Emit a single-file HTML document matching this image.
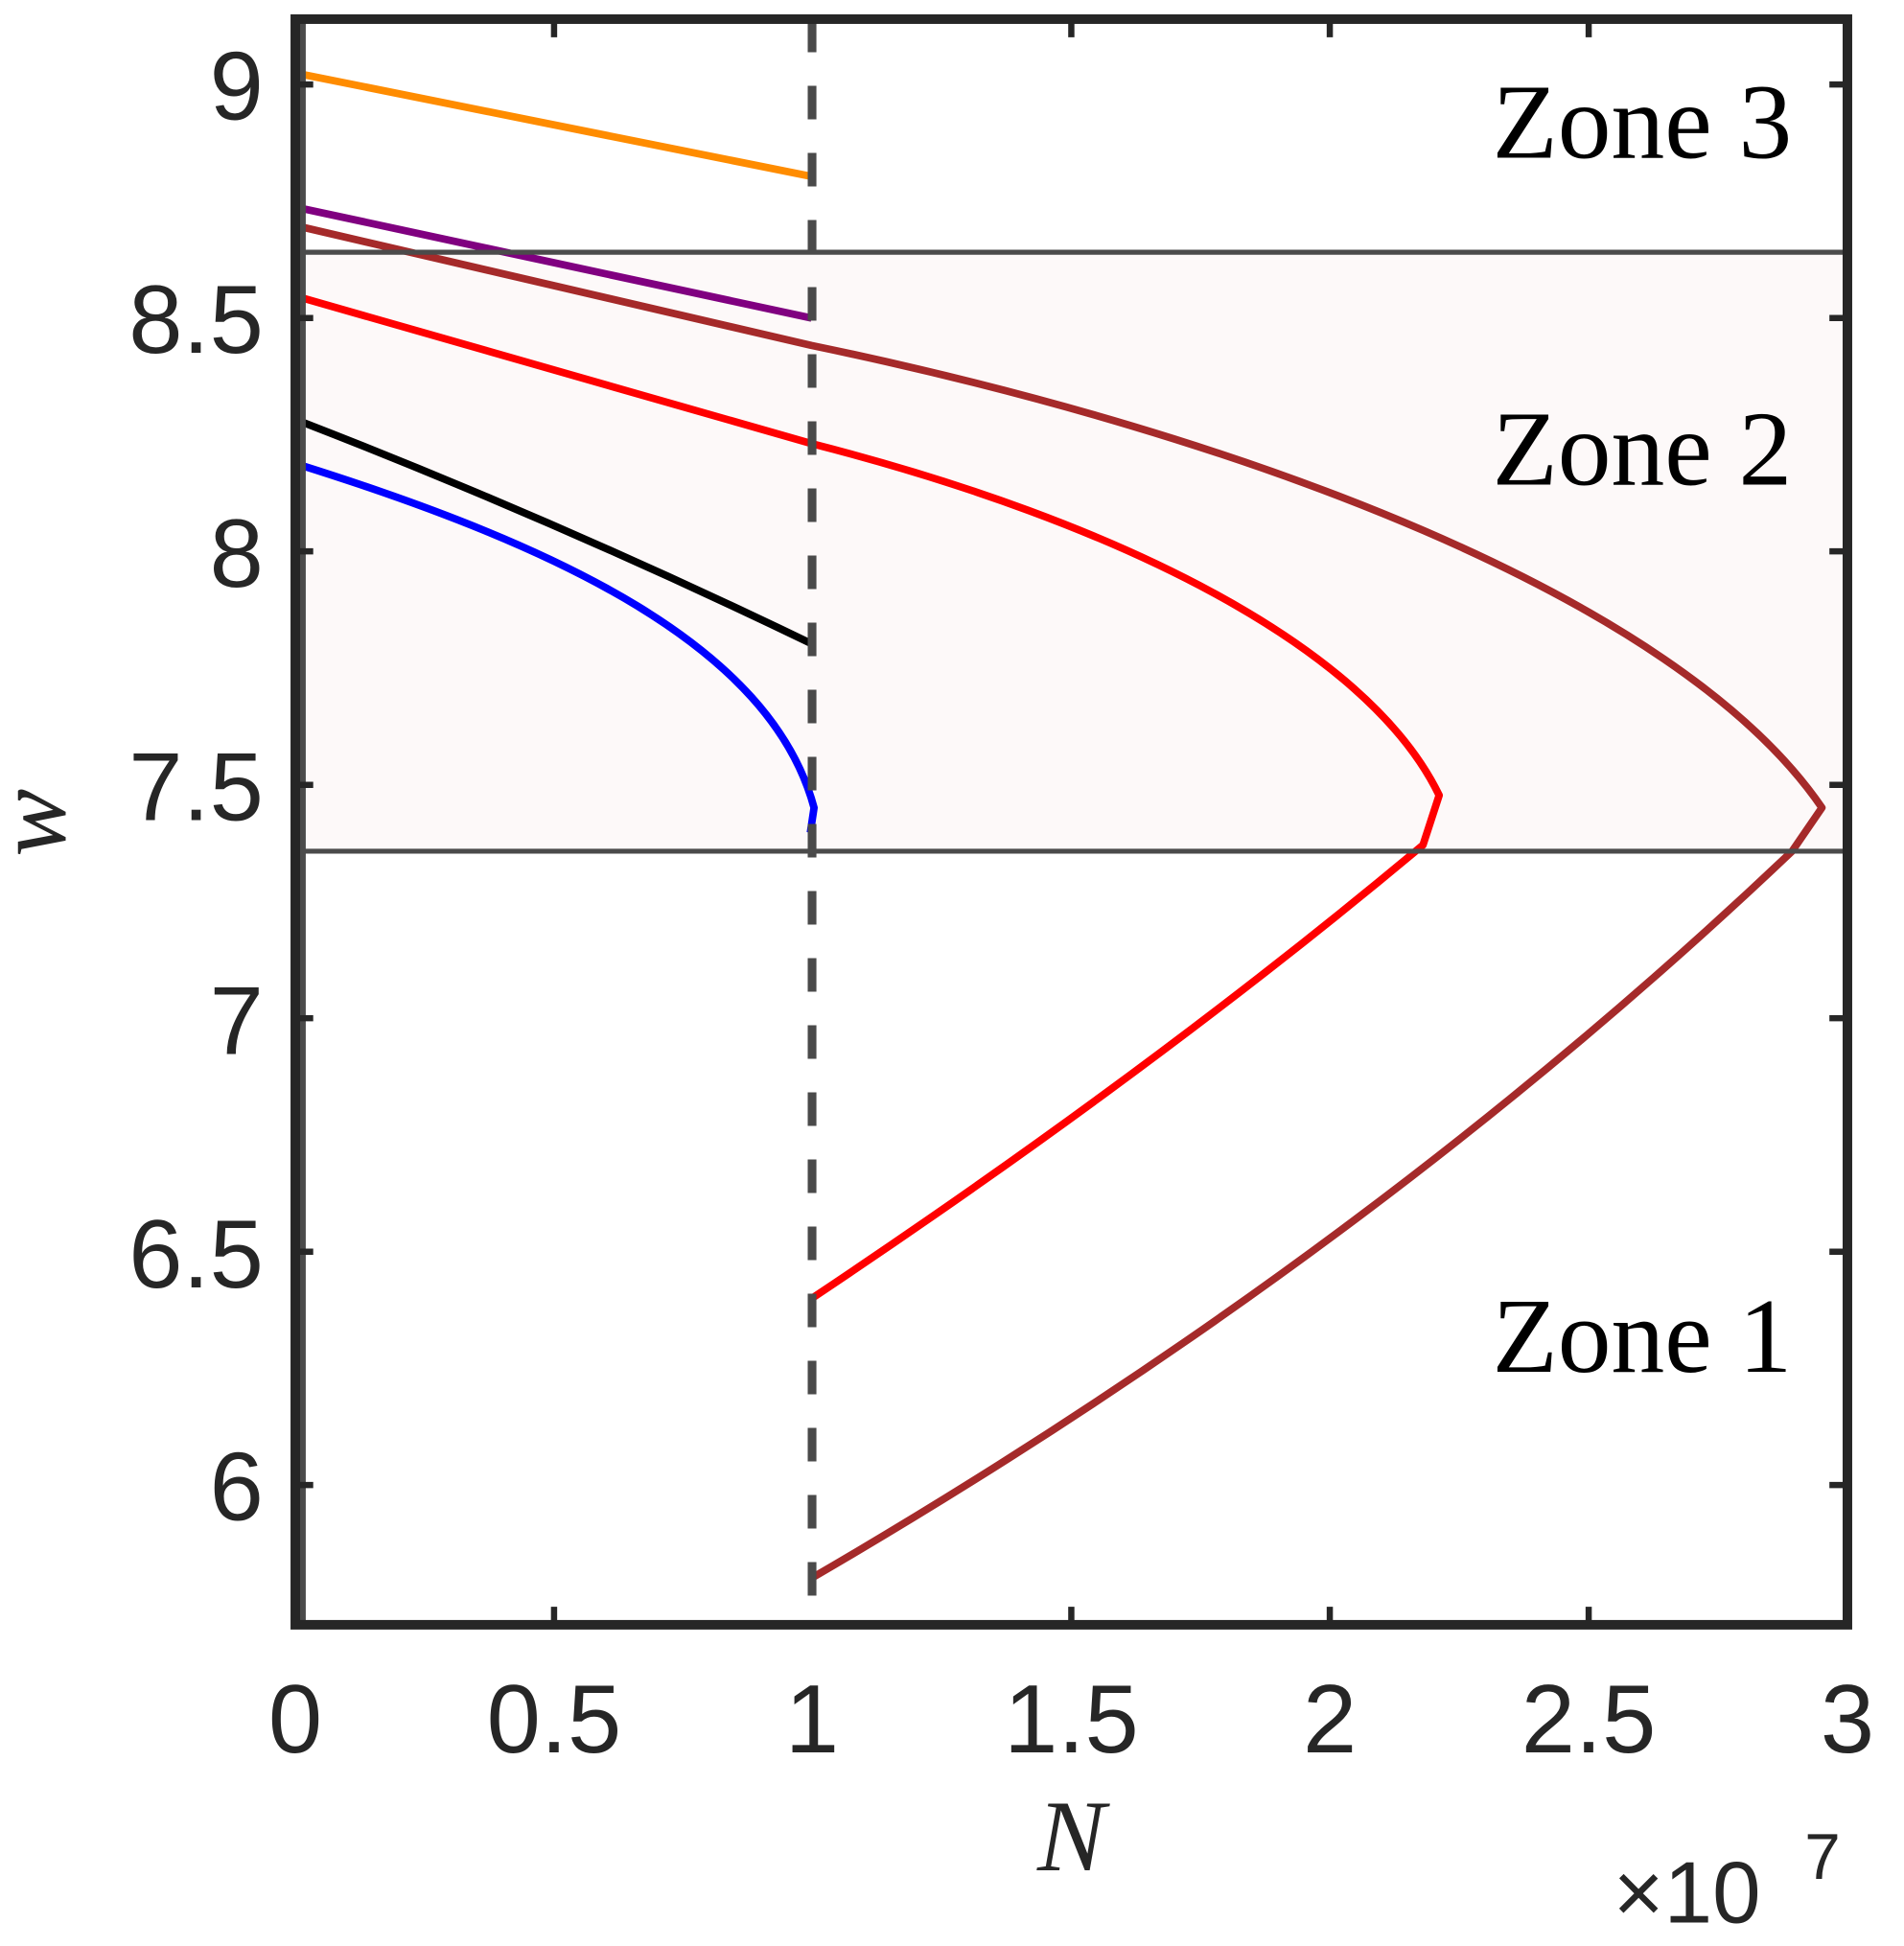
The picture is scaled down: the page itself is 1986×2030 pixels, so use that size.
<!DOCTYPE html>
<html><head><meta charset="utf-8"><style>html,body{margin:0;padding:0;background:#fff}svg{display:block}</style></head>
<body>
<svg width="1986" height="2030" viewBox="0 0 1532 1566" xmlns="http://www.w3.org/2000/svg">
<rect x="0" y="0" width="1532" height="1566" fill="#fff"/>
<rect x="241" y="203" width="1245" height="482" fill="#fdf9f9"/>
<g fill="none" stroke-linejoin="round" stroke-linecap="butt" stroke-width="6">
<path stroke="#ff8c00" d="M244,60 L653,142"/>
<path stroke="#800080" d="M244,168 L653,256"/>
<path stroke="#a52a2a" d="M244,183 L653,278 C1000,350 1350,480 1466,650 L1442,685 Q1100,1010 653,1270"/>
<path stroke="#ff0000" d="M244,240 L653,357 C900,420 1100,520 1158,640 L1145,680 Q930,860 653,1045"/>
<path stroke="#000000" d="M244,340 Q450,420 653,518"/>
<path stroke="#0000ff" d="M244,375 C450,440 620,520 655,650 L652,670"/>
</g>
<line x1="653.4" y1="15" x2="653.4" y2="1307" stroke="#4a4a4a" stroke-width="7" stroke-dasharray="27,27"/>
<line x1="241" y1="203" x2="1486" y2="203" stroke="#4b4b4b" stroke-width="4"/>
<line x1="241" y1="685" x2="1486" y2="685" stroke="#4b4b4b" stroke-width="4"/>
<line x1="243.5" y1="15" x2="243.5" y2="1307" stroke="#4b4b4b" stroke-width="5"/>
<g stroke="#262626" stroke-width="5">
<line x1="237.6" y1="68" x2="252" y2="68"/><line x1="1486.5" y1="68" x2="1472" y2="68"/>
<line x1="237.6" y1="255.9" x2="252" y2="255.9"/><line x1="1486.5" y1="255.9" x2="1472" y2="255.9"/>
<line x1="237.6" y1="443.7" x2="252" y2="443.7"/><line x1="1486.5" y1="443.7" x2="1472" y2="443.7"/>
<line x1="237.6" y1="631.6" x2="252" y2="631.6"/><line x1="1486.5" y1="631.6" x2="1472" y2="631.6"/>
<line x1="237.6" y1="819.4" x2="252" y2="819.4"/><line x1="1486.5" y1="819.4" x2="1472" y2="819.4"/>
<line x1="237.6" y1="1007.3" x2="252" y2="1007.3"/><line x1="1486.5" y1="1007.3" x2="1472" y2="1007.3"/>
<line x1="237.6" y1="1195" x2="252" y2="1195"/><line x1="1486.5" y1="1195" x2="1472" y2="1195"/>
<line x1="445.8" y1="1307.5" x2="445.8" y2="1293"/><line x1="445.8" y1="15.4" x2="445.8" y2="30"/>
<line x1="862" y1="1307.5" x2="862" y2="1293"/><line x1="862" y1="15.4" x2="862" y2="30"/>
<line x1="1070" y1="1307.5" x2="1070" y2="1293"/><line x1="1070" y1="15.4" x2="1070" y2="30"/>
<line x1="1278.3" y1="1307.5" x2="1278.3" y2="1293"/><line x1="1278.3" y1="15.4" x2="1278.3" y2="30"/>
</g>
<rect x="237.6" y="15.4" width="1248.9" height="1292.1" fill="none" stroke="#262626" stroke-width="7.7"/>
<g font-family="Liberation Sans, sans-serif" font-size="78" fill="#262626">
<g text-anchor="end">
<text x="212" y="96">9</text>
<text x="212" y="284">8.5</text>
<text x="212" y="472">8</text>
<text x="212" y="660">7.5</text>
<text x="212" y="848">7</text>
<text x="212" y="1036">6.5</text>
<text x="212" y="1223">6</text>
</g>
<g text-anchor="middle">
<text x="237.6" y="1410">0</text>
<text x="445.8" y="1410">0.5</text>
<text x="653.4" y="1410">1</text>
<text x="862" y="1410">1.5</text>
<text x="1070" y="1410">2</text>
<text x="1278.3" y="1410">2.5</text>
<text x="1486.5" y="1410">3</text>
</g>
<text x="1298" y="1547" font-size="70">×10</text>
<text x="1452" y="1512" font-size="52">7</text>
</g>
<g font-family="Liberation Serif, serif" fill="#000">
<text x="1442" y="127" font-size="86" text-anchor="end">Zone 3</text>
<text x="1442" y="390" font-size="86" text-anchor="end">Zone 2</text>
<text x="1442" y="1104" font-size="86" text-anchor="end">Zone 1</text>
<text x="862" y="1505" font-size="82" font-style="italic" fill="#262626" text-anchor="middle">N</text>
<text x="0" y="0" font-size="82" font-style="italic" fill="#262626" text-anchor="middle" transform="translate(52,662) rotate(-90)">w</text>
</g>
</svg>
</body></html>
